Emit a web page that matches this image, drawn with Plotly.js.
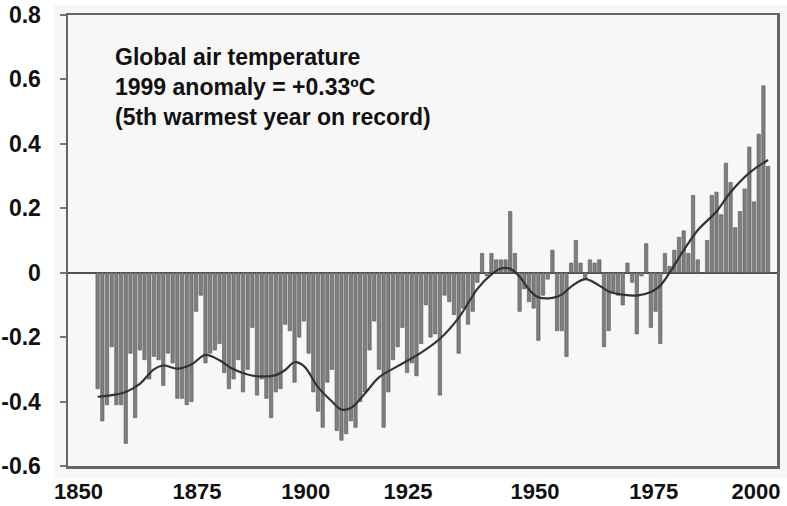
<!DOCTYPE html>
<html>
<head>
<meta charset="utf-8">
<script src="https://cdn.plot.ly/plotly-3.0.1.min.js"></script>
<style>
  html, body { margin: 0; padding: 0; background: #ffffff; }
  #chart { width: 787px; height: 506px; }
</style>
</head>
<body>
<div id="chart"></div>
<script>
// ---- Data ----
const years = [
  1856, 1857, 1858, 1859,
  1860, 1861, 1862, 1863, 1864, 1865, 1866, 1867, 1868, 1869,
  1870, 1871, 1872, 1873, 1874, 1875, 1876, 1877, 1878, 1879,
  1880, 1881, 1882, 1883, 1884, 1885, 1886, 1887, 1888, 1889,
  1890, 1891, 1892, 1893, 1894, 1895, 1896, 1897, 1898, 1899,
  1900, 1901, 1902, 1903, 1904, 1905, 1906, 1907, 1908, 1909,
  1910, 1911, 1912, 1913, 1914, 1915, 1916, 1917, 1918, 1919,
  1920, 1921, 1922, 1923, 1924, 1925, 1926, 1927, 1928, 1929,
  1930, 1931, 1932, 1933, 1934, 1935, 1936, 1937, 1938, 1939,
  1940, 1941, 1942, 1943, 1944, 1945, 1946, 1947, 1948, 1949,
  1950, 1951, 1952, 1953, 1954, 1955, 1956, 1957, 1958, 1959,
  1960, 1961, 1962, 1963, 1964, 1965, 1966, 1967, 1968, 1969,
  1970, 1971, 1972, 1973, 1974, 1975, 1976, 1977, 1978, 1979,
  1980, 1981, 1982, 1983, 1984, 1985, 1986, 1987, 1988, 1989,
  1990, 1991, 1992, 1993, 1994, 1995, 1996, 1997, 1998, 1999
];

const anomalies = [
  -0.36, -0.46, -0.41, -0.23,
  -0.41, -0.41, -0.53, -0.25, -0.45, -0.24, -0.27, -0.33, -0.26, -0.27,
  -0.35, -0.25, -0.28, -0.39, -0.39, -0.41, -0.40, -0.12, -0.07, -0.28,
  -0.25, -0.24, -0.22, -0.31, -0.36, -0.33, -0.27, -0.37, -0.30, -0.17,
  -0.38, -0.33, -0.39, -0.45, -0.37, -0.36, -0.16, -0.18, -0.34, -0.20,
  -0.15, -0.25, -0.37, -0.43, -0.48, -0.34, -0.30, -0.49, -0.52, -0.50,
  -0.46, -0.48, -0.40, -0.37, -0.24, -0.15, -0.30, -0.48, -0.37, -0.27,
  -0.23, -0.17, -0.31, -0.28, -0.32, -0.22, -0.10, -0.20, -0.19, -0.38,
  -0.07, -0.09, -0.13, -0.25, -0.11, -0.16, -0.12, -0.03, 0.06, -0.01,
  0.06, 0.04, 0.04, 0.04, 0.19, 0.06, -0.12, -0.05, -0.09, -0.11,
  -0.21, -0.07, -0.02, 0.07, -0.18, -0.18, -0.26, 0.03, 0.10, 0.03,
  -0.02, 0.04, 0.03, 0.04, -0.23, -0.18, -0.06, -0.07, -0.10, 0.03,
  -0.03, -0.19, -0.01, 0.09, -0.17, -0.12, -0.22, 0.06, 0.02, 0.07,
  0.11, 0.13, 0.06, 0.24, 0.04, 0.00, 0.10, 0.24, 0.25, 0.18,
  0.34, 0.28, 0.14, 0.19, 0.26, 0.39, 0.22, 0.43, 0.58, 0.33
];

// Smoothed curve
const curveYears = [
  1856, 1859, 1862, 1865, 1868, 1870, 1873, 1876, 1879, 1882,
  1885, 1888, 1891, 1894, 1896, 1898, 1900, 1903, 1906, 1908,
  1910, 1913, 1916, 1920, 1925, 1929, 1933, 1937, 1940, 1942,
  1944, 1946, 1948, 1950, 1953, 1955, 1957, 1960, 1963, 1965,
  1968, 1971, 1974, 1976, 1978, 1981, 1984, 1988, 1991, 1995, 1999
];
const curveValues = [
  -0.385, -0.380, -0.370, -0.345, -0.300, -0.288, -0.298, -0.285, -0.255, -0.272,
  -0.300, -0.316, -0.322, -0.318, -0.302, -0.278, -0.290, -0.355, -0.400, -0.425,
  -0.420, -0.375, -0.325, -0.290, -0.248, -0.205, -0.140, -0.050, -0.005, 0.013,
  0.012, -0.012, -0.052, -0.076, -0.078, -0.068, -0.043, -0.020, -0.040, -0.058,
  -0.068, -0.071, -0.060, -0.040, 0.000, 0.070, 0.132, 0.190, 0.250, 0.310, 0.350
];

const yTickValues = [-0.6, -0.4, -0.2, 0, 0.2, 0.4, 0.6, 0.8];
const yTickLabels = ["-0.6", "-0.4", "-0.2", "0", "0.2", "0.4", "0.6", "0.8"];
const xTickLabels = ["1850", "1875", "1900", "1925", "1950", "1975", "2000"];

const noteLines = [
  "Global air temperature",
  "1999 anomaly = +0.33\u00BAC",
  "(5th warmest year on record)"
];

// ---- Layout config (label placement as in the picture) ----
const xLabelPlaces = [1851.9, 1877.2, 1900.4, 1922.2, 1949.3, 1974.6, 1996.4];

const traces = [
  {
    type: 'bar',
    x: years,
    y: anomalies,
    marker: { color: '#7f7f7f', line: { color: '#555555', width: 0.6 } },
    hoverinfo: 'skip'
  },
  {
    type: 'scatter',
    mode: 'lines',
    x: curveYears,
    y: curveValues,
    line: { color: '#333333', width: 2.2, shape: 'spline', smoothing: 1 },
    hoverinfo: 'skip'
  }
];

const boldFont = { family: 'Liberation Sans, Arial, Helvetica, sans-serif', size: 23, color: '#111111', weight: 'bold' };
const xFont = { family: 'Liberation Sans, Arial, Helvetica, sans-serif', size: 22, color: '#111111', weight: 'bold' };

const layout = {
  width: 787,
  height: 506,
  margin: { l: 68, r: 10, t: 15, b: 40, pad: 0 },
  paper_bgcolor: '#ffffff',
  plot_bgcolor: '#f7f7f7',
  showlegend: false,
  bargap: 0.28,
  font: boldFont,
  xaxis: {
    range: [1849.68, 2000.9],
    showgrid: false,
    zeroline: false,
    showline: true,
    mirror: true,
    linecolor: '#666666',
    linewidth: 2.5,
    ticks: '',
    tickmode: 'array',
    tickvals: xLabelPlaces,
    ticktext: xTickLabels,
    tickfont: xFont,
    ticklabelstandoff: 4,
    fixedrange: true
  },
  yaxis: {
    range: [-0.6, 0.8],
    showgrid: false,
    zeroline: true,
    zerolinecolor: '#505050',
    zerolinewidth: 2,
    showline: true,
    mirror: true,
    linecolor: '#666666',
    linewidth: 2.5,
    ticks: 'outside',
    ticklen: 6,
    tickwidth: 2,
    tickcolor: '#777777',
    tickmode: 'array',
    tickvals: yTickValues,
    ticktext: yTickLabels,
    tickfont: boldFont,
    ticklabelstandoff: 14,
    fixedrange: true
  },
  shapes: [
    {
      type: 'rect', xref: 'paper', yref: 'paper',
      x0: -0.0197, x1: 1.014, y0: -0.0266, y1: 1.022,
      fillcolor: '#f7f7f7', line: { width: 0 }, layer: 'below'
    }
  ],
  annotations: [
    {
      xref: 'paper', yref: 'paper',
      x: 0.0635, y: 0.94,
      xanchor: 'left', yanchor: 'top',
      align: 'left',
      showarrow: false,
      text: noteLines.join('<br>'),
      font: boldFont
    }
  ]
};

Plotly.newPlot('chart', traces, layout, { staticPlot: true, displayModeBar: false });
</script>
</body>
</html>
